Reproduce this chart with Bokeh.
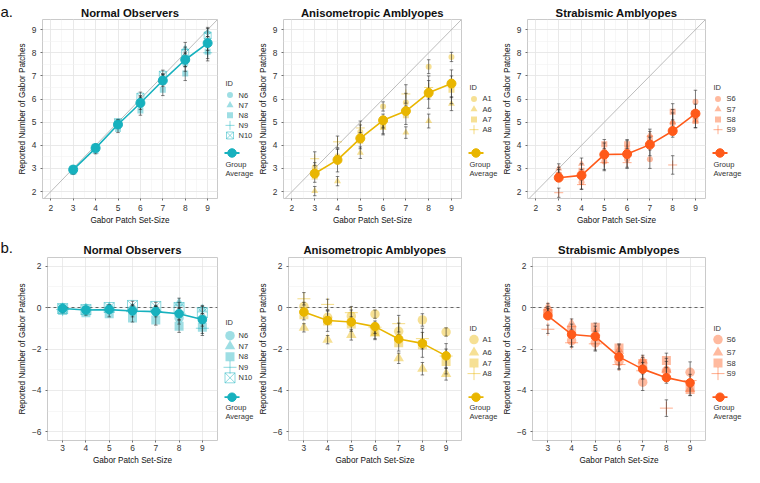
import numpy as np
from bokeh.plotting import figure
from bokeh.layouts import row, column
from bokeh.models import Range1d, FixedTicker, Slope, Span
from bokeh.embed import file_html
from bokeh.resources import INLINE
from bokeh.core.properties import value

FONT = "Liberation Sans"

# ---------------- data ----------------
set_sizes = [3, 4, 5, 6, 7, 8, 9]
titles = ["Normal Observers", "Anisometropic Amblyopes", "Strabismic Amblyopes"]
panel_letters = ["a.", "b."]
x_label = "Gabor Patch Set-Size"
y_label = "Reported Number of Gabor Patches"

x_ticks_a = [2, 3, 4, 5, 6, 7, 8, 9]
y_ticks_a = [2, 3, 4, 5, 6, 7, 8, 9]
x_ticks_b = [3, 4, 5, 6, 7, 8, 9]
y_ticks_b = [-6, -4, -2, 0, 2]

# error = reported - set size (panel b); panel a shows reported = set size + error
normal_ids = ["N6", "N7", "N8", "N9", "N10"]
N6_err = [0.00, -0.05, -0.05, -0.10, -0.15, -0.50, -0.60]
N7_err = [-0.05, -0.10, 0.00, -0.05, -0.10, 0.20, -0.10]
N8_err = [-0.15, -0.25, -0.30, -0.50, -0.60, -0.90, -0.95]
N9_err = [-0.10, -0.10, -0.10, -0.20, -0.20, -0.30, -1.00]
N10_err = [-0.05, -0.10, 0.00, 0.10, 0.05, 0.00, -0.25]
normal_group = [-0.05, -0.12, -0.10, -0.17, -0.20, -0.30, -0.58]
N6_se = [0.08, 0.10, 0.12, 0.20, 0.20, 0.30, 0.30]
N7_se = [0.08, 0.10, 0.12, 0.20, 0.20, 0.25, 0.20]
N8_se = [0.10, 0.12, 0.15, 0.20, 0.25, 0.30, 0.30]
N9_se = [0.10, 0.12, 0.15, 0.25, 0.25, 0.30, 0.35]
N10_se = [0.08, 0.10, 0.12, 0.20, 0.20, 0.25, 0.30]

aniso_ids = ["A1", "A6", "A7", "A8"]
A1_err = [0.05, -0.47, -0.42, -0.32, -1.15, -0.60, -1.18]
A6_err = [-0.98, -1.55, -1.32, -1.25, -2.45, -2.95, -3.20]
A7_err = [-0.35, -0.65, -0.80, -1.15, -1.70, -1.80, -2.60]
A8_err = [0.42, 0.15, -0.25, -0.95, -0.78, -1.50, -2.34]
aniso_group = [-0.22, -0.63, -0.70, -0.92, -1.52, -1.73, -2.33]
A1_se = [0.20, 0.30, 0.30, 0.20, 0.40, 0.30, 0.20]
A6_se = [0.20, 0.20, 0.25, 0.30, 0.25, 0.30, 0.30]
A7_se = [0.25, 0.50, 0.35, 0.35, 0.40, 0.60, 0.60]
A8_se = [0.30, 0.25, 0.30, 0.30, 0.40, 0.50, 0.60]

strab_ids = ["S6", "S7", "S8", "S9"]
S6_err = [-0.25, -1.60, -1.70, -2.60, -3.60, -3.05, -3.12]
S7_err = [0.00, -0.80, -1.20, -2.10, -2.55, -3.00, -3.93]
S8_err = [-0.30, -1.10, -0.95, -1.95, -2.70, -2.55, -3.95]
S9_err = [-1.05, -1.70, -1.75, -2.75, -3.05, -4.85, -3.52]
strab_group = [-0.40, -1.30, -1.40, -2.38, -2.97, -3.38, -3.63]
S6_se = [0.30, 0.30, 0.40, 0.35, 0.40, 0.60, 0.50]
S7_se = [0.20, 0.25, 0.30, 0.30, 0.25, 0.40, 0.30]
S8_se = [0.25, 0.30, 0.20, 0.20, 0.30, 0.35, 0.30]
S9_se = [0.20, 0.20, 0.30, 0.25, 0.40, 0.40, 0.30]

normal_color = "#17b1be"
aniso_color = "#e9b600"
strab_color = "#ff5a1a"

normal_markers = ["circle", "triangle", "square", "cross", "square_x"]
amb_markers = ["circle", "triangle", "square", "cross"]

groups = [
    dict(title=titles[0], ids=normal_ids, markers=normal_markers, color=normal_color,
         errs=[N6_err, N7_err, N8_err, N9_err, N10_err],
         ses=[N6_se, N7_se, N8_se, N9_se, N10_se], grp=normal_group),
    dict(title=titles[1], ids=aniso_ids, markers=amb_markers, color=aniso_color,
         errs=[A1_err, A6_err, A7_err, A8_err],
         ses=[A1_se, A6_se, A7_se, A8_se], grp=aniso_group),
    dict(title=titles[2], ids=strab_ids, markers=amb_markers, color=strab_color,
         errs=[S6_err, S7_err, S8_err, S9_err],
         ses=[S6_se, S7_se, S8_se, S9_se], grp=strab_group),
]

SIZES_A = {"circle": 6, "triangle": 7, "square": 6, "cross": 9, "square_x": 7}
SIZES_B = {"circle": 9.5, "triangle": 10.5, "square": 9, "cross": 13, "square_x": 10}


def draw_marker(p, x, y, marker, size, color):
    if marker in ("cross", "square_x"):
        p.scatter(x, y, marker=marker, size=size, line_color=color, line_alpha=0.55,
                  line_width=0.9, fill_color=None)
    else:
        p.scatter(x, y, marker=marker, size=size, fill_color=color, fill_alpha=0.42,
                  line_color=None)


def style_axes(p, xt, xminor, yt, yminor):
    xtick = FixedTicker(ticks=xt, minor_ticks=xminor)
    ytick = FixedTicker(ticks=yt, minor_ticks=yminor)
    p.xaxis.ticker = xtick
    p.yaxis.ticker = ytick
    p.xgrid.ticker = xtick
    p.ygrid.ticker = ytick
    for ax in (p.xaxis[0], p.yaxis[0]):
        ax.axis_line_color = None
        ax.major_tick_line_color = "#333333"
        ax.major_tick_line_width = 0.7
        ax.major_tick_out = 2
        ax.major_tick_in = 0
        ax.minor_tick_line_color = None
        ax.major_label_text_font = FONT
        ax.major_label_text_font_size = "8.4px"
        ax.major_label_text_color = "#333333"
        ax.major_label_standoff = 2
        ax.axis_label_text_font = FONT
        ax.axis_label_text_font_size = "8.2px"
        ax.axis_label_text_font_style = "normal"
        ax.axis_label_text_color = "#111111"
        ax.axis_label_standoff = 2
    for g in (p.xgrid[0], p.ygrid[0]):
        g.grid_line_color = "#e3e3e3"
        g.grid_line_width = 0.7
        g.minor_grid_line_color = "#f1f1f1"
        g.minor_grid_line_width = 0.6


def panel(kind, g, left, w, h, top, bottom, standoff):
    if kind == "a":
        xr, yr = Range1d(1.63, 9.44), Range1d(1.70, 9.44)
    else:
        xr, yr = Range1d(2.35, 9.65), Range1d(-6.41, 2.41)
    p = figure(width=w, height=h, x_range=xr, y_range=yr, toolbar_location=None,
               output_backend="svg", title=g["title"],
               min_border_left=left, min_border_right=2,
               min_border_top=top, min_border_bottom=bottom)
    p.background_fill_color = "white"
    p.border_fill_color = "white"
    p.outline_line_color = "#c4c4c4"
    p.outline_line_width = 0.9
    p.title.text_font = FONT
    p.title.text_font_size = "11.3px"
    p.title.text_font_style = "bold"
    p.title.text_color = "#111111"
    p.title.align = "center"
    p.title.standoff = standoff
    p.xaxis.axis_label = x_label
    p.yaxis.axis_label = y_label

    if kind == "a":
        style_axes(p, x_ticks_a, [1.5 + 0.5 * i for i in range(18)],
                   y_ticks_a, [1.5 + 0.5 * i for i in range(18)])
        ref = Slope(gradient=1, y_intercept=0, line_color="#ababab", line_width=0.8)
        ref.level = "underlay"
        p.add_layout(ref)
        sizes = SIZES_A
    else:
        style_axes(p, x_ticks_b, [], y_ticks_b, [-5, -3, -1, 1])
        zero = Span(location=0, dimension="width", line_color="#444444",
                    line_width=0.8, line_dash="3 3")
        zero.level = "underlay"
        p.add_layout(zero)
        sizes = SIZES_B

    xs = np.array(set_sizes, dtype=float)
    base = xs if kind == "a" else 0.0
    color = g["color"]
    for err, marker in zip(g["errs"], g["markers"]):
        y = base + np.array(err)
        draw_marker(p, xs, y, marker, sizes[marker], color)
    for err, se in zip(g["errs"], g["ses"]):
        y = base + np.array(err)
        lo = y - np.array(se)
        hi = y + np.array(se)
        p.segment(x0=xs, y0=lo, x1=xs, y1=hi, line_color="#262626", line_width=0.7,
                  line_alpha=0.8)
        p.scatter(xs, hi, marker="dash", size=3.5, line_color="#262626", line_width=0.7,
                  line_alpha=0.8)
        p.scatter(xs, lo, marker="dash", size=3.5, line_color="#262626", line_width=0.7,
                  line_alpha=0.8)
    gy = base + np.array(g["grp"])
    p.line(xs, gy, line_color=color, line_width=1.6)
    p.scatter(xs, gy, marker="circle", size=9 if kind == "a" else 8.5,
              fill_color=color, line_color=color)
    return p


def blank_fig(w, h, top, bottom, title=None):
    # frames in a row are aligned with the panels' frames, so the y range maps
    # canvas pixels (measured from the top) onto the aligned frame
    p = figure(width=w, height=h, x_range=Range1d(0, w), y_range=Range1d(h - bottom, top),
               toolbar_location=None, output_backend="svg", title=title,
               x_axis_type=None, y_axis_type=None,
               min_border_left=0, min_border_right=0,
               min_border_top=top, min_border_bottom=bottom)
    p.outline_line_color = None
    p.background_fill_color = "white"
    p.border_fill_color = "white"
    return p


def letter_fig(w, h, top, bottom, letter, standoff):
    p = blank_fig(w, h, top, bottom, title=letter)
    p.title.text_font = FONT
    p.title.text_font_size = "15px"
    p.title.text_font_style = "normal"
    p.title.text_color = "#111111"
    p.title.align = "left"
    p.title.offset = 0
    p.title.standoff = standoff
    return p


def legend_fig(kind, g, w, h, top, bottom, id_y, item_ys, grp_y, g1_y, g2_y):
    p = blank_fig(w, h, top, bottom)
    sizes = SIZES_A if kind == "a" else SIZES_B
    color = g["color"]
    tstyle = dict(text_font=value(FONT), text_font_size="7.5px", text_color="#333333",
                  text_baseline="middle", text_align="left")
    p.text(x=[6], y=[id_y], text=["ID"], **tstyle)
    for ident, marker, yy in zip(g["ids"], g["markers"], item_ys):
        draw_marker(p, [10.5], [yy], marker, sizes[marker], color)
        p.text(x=[19], y=[yy], text=[ident], **tstyle)
    p.line(x=[5, 20], y=[grp_y, grp_y], line_color=color, line_width=1.8)
    p.scatter([12.5], [grp_y], marker="circle", size=8.5, fill_color=color, line_color=color)
    p.text(x=[6], y=[g1_y], text=["Group"], **tstyle)
    p.text(x=[6], y=[g2_y], text=["Average"], **tstyle)
    return p


HA, HB = 227, 240
TOP_A, BOT_A = 17, 24
TOP_B, BOT_B = 30, 24
LETTER_W = 14
plot_w = [205, 208, 208]
plot_left = [24, 27, 27]
leg_w = [36, 36, 37]

top_items = [letter_fig(LETTER_W, HA, TOP_A, BOT_A, panel_letters[0], 0)]
bot_items = [letter_fig(LETTER_W, HB, TOP_B, BOT_B, panel_letters[1], 3)]
for i, g in enumerate(groups):
    n = len(g["ids"])
    pa = panel("a", g, plot_left[i], plot_w[i], HA, TOP_A, BOT_A, 2)
    pb = panel("b", g, plot_left[i], plot_w[i], HB, TOP_B, BOT_B, 4)
    if n == 5:
        la = legend_fig("a", g, leg_w[i], HA, TOP_A, BOT_A, 83,
                        [95.5, 106, 116.5, 127, 137.5], 155.7, 168, 177)
        lb = legend_fig("b", g, leg_w[i], HB, TOP_B, BOT_B, 96,
                        [109.5, 120.2, 130.9, 141.6, 152.3], 172, 182.7, 192)
    else:
        la = legend_fig("a", g, leg_w[i], HA, TOP_A, BOT_A, 87.7,
                        [99.6, 110.2, 120.9, 131.5], 155.7, 168, 177)
        lb = legend_fig("b", g, leg_w[i], HB, TOP_B, BOT_B, 101.8,
                        [113.4, 126.6, 137.3, 148], 172, 182.7, 192)
    top_items += [pa, la]
    bot_items += [pb, lb]

layout = column(row(*top_items, spacing=0), row(*bot_items, spacing=0), spacing=0)

open("out.html", "w").write(file_html(layout, INLINE))
